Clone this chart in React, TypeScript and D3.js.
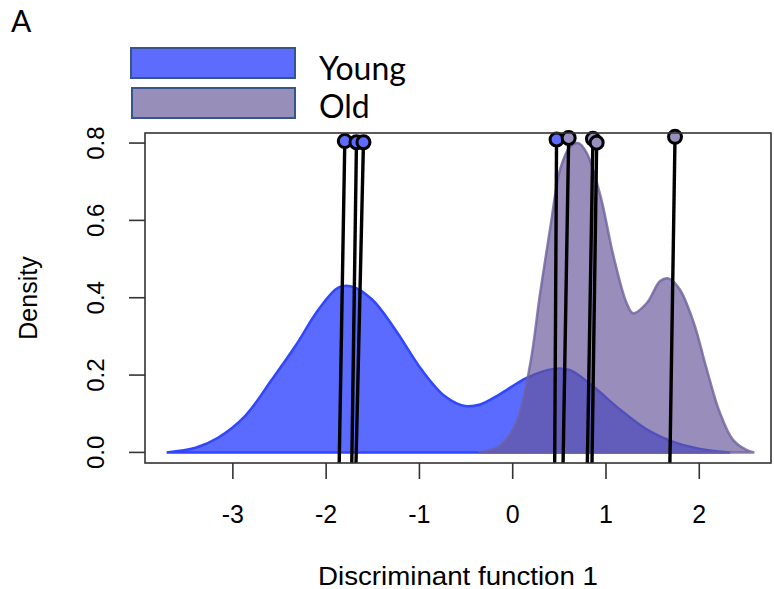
import React from 'react'
import * as d3 from 'd3'

// density curves (x = discriminant score, y = density)
const youngX = [-3.71, -3.4, -3.16, -2.87, -2.58, -2.33, -2.08, -1.87, -1.73, -1.51, -1.26, -0.98, -0.73, -0.51, -0.35, -0.14, 0.15, 0.44, 0.61, 0.86, 1.15, 1.44, 1.76, 2.11, 2.33]
const youngY = [0, 0.012, 0.038, 0.094, 0.189, 0.275, 0.37, 0.426, 0.429, 0.396, 0.318, 0.215, 0.146, 0.12, 0.124, 0.15, 0.193, 0.216, 0.213, 0.171, 0.111, 0.059, 0.024, 0.005, 0]

const oldX = [-0.37, -0.14, 0.04, 0.19, 0.29, 0.4, 0.51, 0.61, 0.7, 0.79, 0.94, 1.08, 1.22, 1.29, 1.44, 1.58, 1.67, 1.79, 1.94, 2.08, 2.22, 2.36, 2.5, 2.59]
const oldY = [0, 0.016, 0.077, 0.232, 0.405, 0.577, 0.733, 0.789, 0.8, 0.776, 0.664, 0.508, 0.387, 0.36, 0.387, 0.443, 0.45, 0.422, 0.336, 0.215, 0.103, 0.033, 0.007, 0]

// individual scores: top marker position and where the stick meets the axis
const youngTop = [-1.8, -1.675, -1.6, 0.47]
const youngTopY = [0.805, 0.802, 0.802, 0.809]
const youngBottom = [-1.86, -1.725, -1.68, 0.45]

const oldTop = [0.6, 0.86, 0.9, 1.74]
const oldTopY = [0.813, 0.811, 0.801, 0.816]
const oldBottom = [0.54, 0.8, 0.85, 1.685]

const groups = ['Young', 'Old']
const xTicks = [-3, -2, -1, 0, 1, 2]
const yTicks = [0, 0.2, 0.4, 0.6, 0.8]

const fills = { Young: '#5b6aff', Old: '#65559a' }
const strokes = { Young: '#3046ff', Old: '#6d619f' }
const pointFill = { Young: '#5d6cff', Old: '#9a90be' }

const W = 774
const H = 589
const box = { left: 145, right: 771, top: 133, bottom: 463 }

export default function App() {
  const x = d3.scaleLinear().domain([-3.942, 2.769]).range([box.left, box.right])
  const y = d3.scaleLinear().domain([-0.0274, 0.826]).range([box.bottom, box.top])

  const area = d3.area<[number, number]>()
    .x(d => x(d[0]))
    .y0(y(0))
    .y1(d => Math.min(y(0), y(d[1])))
    .curve(d3.curveCatmullRom.alpha(0.5))

  const young = youngX.map((v, i) => [v, youngY[i]] as [number, number])
  const old = oldX.map((v, i) => [v, oldY[i]] as [number, number])

  const sticks = [
    ...youngTop.map((v, i) => ({ g: 'Young', top: v, ty: youngTopY[i], bottom: youngBottom[i] })),
    ...oldTop.map((v, i) => ({ g: 'Old', top: v, ty: oldTopY[i], bottom: oldBottom[i] })),
  ]

  const axisFont = "'Liberation Sans', Arial, sans-serif"
  const legFont = "Lato, 'Open Sans', sans-serif"

  return (
    <svg width={W} height={H} style={{ position: 'absolute', left: 0, top: 0, background: '#fff' }}>
      <text x={11} y={32} fontFamily={legFont} fontSize={30}>A</text>

      {/* legend */}
      {groups.map((g, i) => (
        <g key={g}>
          <rect x={131 + (i ? 1 : 0)} y={48 + i * 40} width={164 - (i ? 1 : 0)} height={30}
            fill={g === 'Young' ? '#5d6cff' : '#988eba'} stroke="#36548e" strokeWidth={2} />
          <text x={319} y={80 + i * 38} fontFamily={legFont} fontSize={32}>{g}</text>
        </g>
      ))}

      {/* densities */}
      <path d={area(young) + 'Z'} fill={fills.Young} stroke={strokes.Young} strokeWidth={2.5} />
      <path d={area(old) + 'Z'} fill={fills.Old} fillOpacity={0.67} stroke={strokes.Old} strokeWidth={2.5} strokeOpacity={0.8} />

      {/* sticks and markers */}
      {sticks.map((s, i) => (
        <line key={'l' + i} x1={x(s.top)} y1={y(s.ty)} x2={x(s.bottom)} y2={box.bottom}
          stroke="#000" strokeWidth={3.4} />
      ))}
      {sticks.map((s, i) => (
        <circle key={'c' + i} cx={x(s.top)} cy={y(s.ty)} r={6.5} fill={pointFill[s.g]}
          stroke="#000" strokeWidth={3} />
      ))}

      {/* frame */}
      <rect x={box.left} y={box.top} width={box.right - box.left} height={box.bottom - box.top}
        fill="none" stroke="#333" strokeWidth={1.6} />

      {/* x axis */}
      {xTicks.map(t => (
        <g key={'x' + t}>
          <line x1={x(t)} x2={x(t)} y1={box.bottom} y2={box.bottom + 16} stroke="#333" strokeWidth={1.6} />
          <text x={x(t)} y={523} textAnchor="middle" fontFamily={axisFont} fontSize={25}>{t}</text>
        </g>
      ))}
      <text x={458} y={585} textAnchor="middle" fontFamily={axisFont} fontSize={25}
        textLength={280} lengthAdjust="spacingAndGlyphs">Discriminant function 1</text>

      {/* y axis */}
      {yTicks.map(t => (
        <g key={'y' + t}>
          <line x1={box.left - 16} x2={box.left} y1={y(t)} y2={y(t)} stroke="#333" strokeWidth={1.6} />
          <text transform={`translate(104,${y(t)}) rotate(-90)`} textAnchor="middle"
            fontFamily={axisFont} fontSize={24}>{t.toFixed(1)}</text>
        </g>
      ))}
      <text transform="translate(37,298) rotate(-90)" textAnchor="middle" fontFamily={axisFont} fontSize={25}>Density</text>
    </svg>
  )
}
